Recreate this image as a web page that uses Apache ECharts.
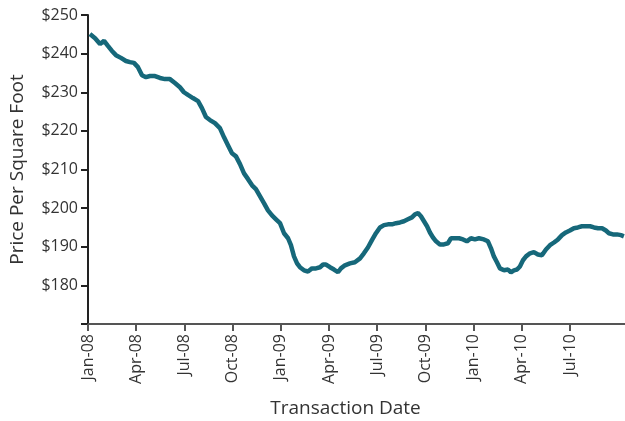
<!DOCTYPE html>
<html>
<head>
<meta charset="UTF-8">
<title>Price Per Square Foot</title>
<script src="https://cdn.jsdelivr.net/npm/echarts@6/dist/echarts.min.js"></script>
<style>
  html, body { margin: 0; padding: 0; background: #fff; }
  #main { width: 625px; height: 421px; }
</style>
</head>
<body>
<div id="main"></div>
<script>
// months since Jan-08 and the price per square foot
var months = [0.12, 0.44, 0.75, 1.00, 1.24, 1.49, 1.74, 2.05, 2.36, 2.61, 2.86, 3.11, 3.36, 3.61, 3.86,
  4.17, 4.48, 4.79, 5.10, 5.41, 5.72, 5.97, 6.22, 6.53, 6.85, 7.09, 7.34, 7.59, 7.90, 8.21, 8.46,
  8.71, 8.96, 9.21, 9.46, 9.71, 9.96, 10.21, 10.45, 10.70, 10.95, 11.20, 11.45, 11.70, 11.95, 12.20,
  12.45, 12.63, 12.82, 13.01, 13.19, 13.44, 13.69, 13.94, 14.19, 14.44, 14.63, 14.81, 15.06, 15.31,
  15.56, 15.74, 15.99, 16.30, 16.61, 16.93, 17.17, 17.42, 17.67, 17.92, 18.17, 18.42, 18.67, 18.92,
  19.17, 19.42, 19.66, 19.91, 20.16, 20.35, 20.54, 20.72, 20.91, 21.10, 21.28, 21.47, 21.66, 21.90,
  22.15, 22.40, 22.59, 22.84, 23.09, 23.34, 23.58, 23.83, 24.08, 24.33, 24.64, 24.89, 25.08, 25.26,
  25.45, 25.64, 25.89, 26.14, 26.32, 26.51, 26.70, 26.88, 27.07, 27.26, 27.51, 27.75, 28.00, 28.25,
  28.50, 28.75, 29.00, 29.25, 29.50, 29.74, 29.99, 30.24, 30.49, 30.74, 30.99, 31.24, 31.49, 31.74,
  31.99, 32.23, 32.42, 32.67, 32.92, 33.17, 33.35];
var prices = [245.1, 244.0, 242.5, 243.3, 242.0, 240.7, 239.6, 238.9, 238.1, 237.8, 237.6, 236.5, 234.4, 233.9, 234.2,
  234.2, 233.7, 233.4, 233.4, 232.4, 231.3, 230.0, 229.3, 228.5, 227.7, 225.9, 223.6, 222.8, 222.0, 220.7, 218.4,
  216.3, 214.2, 213.4, 211.4, 209.0, 207.5, 205.9, 204.9, 203.1, 201.3, 199.4, 198.1, 197.1, 196.1, 193.5,
  192.2, 190.4, 187.5, 185.7, 184.7, 183.9, 183.6, 184.4, 184.4, 184.7, 185.4, 185.4, 184.7, 184.1,
  183.4, 184.4, 185.2, 185.7, 186.0, 187.0, 188.3, 189.8, 191.7, 193.5, 195.0, 195.6, 195.8, 195.8,
  196.1, 196.3, 196.6, 197.1, 197.6, 198.4, 198.7, 197.9, 196.6, 195.3, 193.7, 192.4, 191.4, 190.6,
  190.6, 190.9, 192.2, 192.2, 192.2, 191.9, 191.4, 192.2, 191.9, 192.2, 191.9, 191.4, 189.6, 187.5,
  186.0, 184.4, 183.9, 184.1, 183.4, 183.9, 184.1, 184.9, 186.5, 187.5, 188.3, 188.6, 188.0, 187.8,
  189.3, 190.4, 191.1, 191.9, 193.0, 193.7, 194.2, 194.8, 195.0, 195.3, 195.3, 195.3, 195.0, 194.8,
  194.8, 194.2, 193.5, 193.2, 193.2, 193.0, 192.7];
var tickLabels = ['Jan-08', 'Apr-08', 'Jul-08', 'Oct-08', 'Jan-09', 'Apr-09', 'Jul-09', 'Oct-09',
  'Jan-10', 'Apr-10', 'Jul-10'];

var series = [];
for (var i = 0; i < months.length; i++) {
  series.push([months[i], prices[i]]);
}
var tickPos = tickLabels.map(function (t, k) { return k * 3; });

var font = '"Open Sans", "Noto Sans", sans-serif';
var chart = echarts.init(document.getElementById('main'), null, { renderer: 'canvas' });
chart.setOption({
  animation: false,
  backgroundColor: '#ffffff',
  grid: { left: 88, right: 0, top: 15, bottom: 97, containLabel: false, outerBoundsMode: 'none' },
  xAxis: {
    type: 'value',
    min: 0,
    max: 33.42,
    interval: 3,
    name: 'Transaction Date',
    nameLocation: 'middle',
    nameGap: 75,
    nameTextStyle: { fontFamily: font, fontSize: 19, color: '#333', padding: [0, 22, 0, 0] },
    axisLine: { show: true, lineStyle: { color: '#555', width: 2 } },
    axisTick: { show: true, length: 7, customValues: tickPos, lineStyle: { color: '#555', width: 2 } },
    axisLabel: {
      rotate: 90,
      margin: 10,
      fontFamily: font,
      fontSize: 16,
      color: '#333',
      customValues: tickPos,
      formatter: function (v) {
        return tickLabels[Math.round(v / 3)] || '';
      }
    },
    splitLine: { show: false }
  },
  yAxis: {
    type: 'value',
    min: 170,
    max: 250,
    interval: 10,
    name: 'Price Per Square Foot',
    nameLocation: 'middle',
    nameGap: 61,
    nameTextStyle: { fontFamily: font, fontSize: 19, color: '#333' },
    axisLine: { show: true, lineStyle: { color: '#222', width: 2 } },
    axisTick: { show: true, length: 7, lineStyle: { color: '#222', width: 2 } },
    axisLabel: {
      margin: 10,
      fontFamily: font,
      fontSize: 16,
      color: '#333',
      formatter: function (v) { return v === 170 ? '' : '$' + v; }
    },
    splitLine: { show: false }
  },
  series: [{
    type: 'line',
    data: series,
    showSymbol: false,
    smooth: false,
    lineStyle: { color: '#16687a', width: 4.5 },
    itemStyle: { color: '#16687a' }
  }]
});
</script>
</body>
</html>
